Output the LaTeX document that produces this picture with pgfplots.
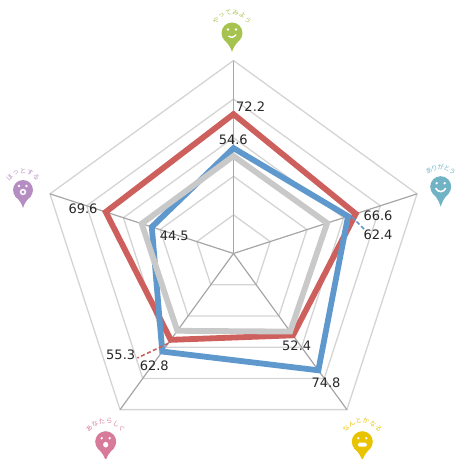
\documentclass[border=0pt]{standalone}
\usepackage{fontspec}
\usepackage{pgfplots}
\pgfplotsset{compat=1.18}
\usepgfplotslibrary{polar}
\setmainfont{DejaVu Sans}
\newfontfamily\jp{Noto Sans CJK JP}
\definecolor{cred}{HTML}{CD5F5C}
\definecolor{cblue}{HTML}{5F98CC}
\definecolor{cgray}{HTML}{C9C9C9}
\definecolor{cgrid}{HTML}{D4D4D4}
\definecolor{cspoke}{HTML}{A6A6A6}
\definecolor{cgreen}{HTML}{A6C24F}
\definecolor{cteal}{HTML}{70B3C4}
\definecolor{cpurple}{HTML}{B58DC2}
\definecolor{cpink}{HTML}{D87A9A}
\definecolor{cyellow}{HTML}{E9C200}
\definecolor{ctext}{HTML}{262626}
\newcommand{\pinhead}[3]{% r, tail, colour
  \fill[#3] (0,0) circle (#1);
  \fill[#3] (-0.8*#1,0.6*#1) .. controls (-0.3*#1,1.05*#1) and (-0.12*#1,#2-4) .. (0,#2)
     .. controls (0.12*#1,#2-4) and (0.3*#1,1.05*#1) .. (0.8*#1,0.6*#1) -- cycle;}
\newcommand{\arctext}[5]{% radius, step, count, colour, chars
  \foreach \c [count=\i] in {#5}{
    \pgfmathsetmacro{\a}{(\i-(#3+1)/2)*#2}
    \node[text=#4,font=\jp\fontsize{6.4}{6.4}\selectfont,inner sep=0pt,rotate=-\a]
      at ({#1*sin(\a)},{-#1*cos(\a)}) {\c};
  }}
\begin{document}
\begin{tikzpicture}
\path[use as bounding box] (0,0) rectangle (455pt,-459pt);
\begin{polaraxis}[
  at={(233.5pt,-253.5pt)}, anchor=center,
  scale only axis, width=386pt, height=386pt,
  xmin=0, xmax=360, ymin=0, ymax=100,
  hide axis, clip=false
]
% rings
\addplot[cgrid,line width=1.3pt,mark=none] coordinates {(90,20)(18,20)(-54,20)(-126,20)(162,20)(90,20)(18,20)};
\addplot[cgrid,line width=1.3pt,mark=none] coordinates {(90,40)(18,40)(-54,40)(-126,40)(162,40)(90,40)(18,40)};
\addplot[cgrid,line width=1.3pt,mark=none] coordinates {(90,60)(18,60)(-54,60)(-126,60)(162,60)(90,60)(18,60)};
\addplot[cgrid,line width=1.3pt,mark=none] coordinates {(90,80)(18,80)(-54,80)(-126,80)(162,80)(90,80)(18,80)};
\addplot[cgrid,line width=1.3pt,mark=none] coordinates {(90,100)(18,100)(-54,100)(-126,100)(162,100)(90,100)(18,100)};
% spokes
\addplot[cspoke,line width=1.2pt,mark=none] coordinates {(90,0)(90,100)};
\addplot[cspoke,line width=1.2pt,mark=none] coordinates {(18,0)(18,100)};
\addplot[cspoke,line width=1.2pt,mark=none] coordinates {(-54,0)(-54,100)};
\addplot[cspoke,line width=1.2pt,mark=none] coordinates {(-126,0)(-126,100)};
\addplot[cspoke,line width=1.2pt,mark=none] coordinates {(162,0)(162,100)};
% series
\addplot[cred,line width=5.8pt,miter limit=10,mark=none] coordinates {(90,72.2)(18,66.6)(-54,52.4)(-126,55.3)(162,69.6)(90,72.2)(18,66.6)};
\addplot[cblue,line width=5.8pt,miter limit=10,mark=none] coordinates {(90,54.6)(18,62.4)(-54,74.8)(-126,62.8)(162,44.5)(90,54.6)(18,62.4)};
\addplot[cgray,line width=5.8pt,miter limit=10,mark=none] coordinates {(90,50.5)(18,51)(-54,50)(-126,49.5)(162,50)(90,50.5)(18,51)};
\end{polaraxis}
\begin{scope}[x=1pt,y=-1pt]
% leader lines
\draw[cred,line width=1.6pt,dash pattern=on 4pt off 2.5pt] (168.3,343.3) -- (137.3,358);
\draw[cblue,line width=1.6pt,dash pattern=on 4pt off 2.5pt] (352,217) -- (365,230);
% labels
\tikzset{lab/.style={text=ctext,font=\fontsize{13}{13}\selectfont,inner sep=0pt}}
\node[lab] at (250.7,106.7) {72.2};
\node[lab] at (233.3,139.3) {54.6};
\node[lab] at (378,216) {66.6};
\node[lab] at (378,235) {62.4};
\node[lab] at (296.7,346) {52.4};
\node[lab] at (326,383) {74.8};
\node[lab] at (120.7,355) {55.3};
\node[lab] at (154.3,365.7) {62.8};
\node[lab] at (174.3,236) {44.5};
\node[lab] at (83,209) {69.6};
% icons
\begin{scope}[shift={(232,33)}]
  \pinhead{10.5}{19}{cgreen}
  \arctext{20.5}{20.5}{6}{cgreen}{や,っ,て,み,よ,う}
  \fill[white] (-4,-3.5) circle (1.3) (4,-3.5) circle (1.3);
  \draw[white,line width=1.4pt] (-3.5,3) .. controls (-1,5) and (2,4.5) .. (4,1.5);
\end{scope}
\begin{scope}[shift={(440.7,186.7)}]
  \pinhead{10.5}{20}{cteal}
  \arctext{19.5}{18.5}{5}{cteal}{あ,り,が,と,う}
  \fill[white] (-4,-3.5) circle (1.3) (4,-3.5) circle (1.3);
  \draw[white,line width=1.6pt] (-5,1.5) .. controls (-3,6) and (3,6) .. (5,1.5);
\end{scope}
\begin{scope}[shift={(23,190)}]
  \pinhead{10}{18}{cpurple}
  \arctext{18.5}{23}{5}{cpurple}{ほ,っ,と,す,る}
  \fill[white] (-4,-4) circle (1.3) (3.5,-4) circle (1.3);
  \draw[white,line width=1.5pt] (0,2) circle (2.4);
\end{scope}
\begin{scope}[shift={(105.7,441.7)}]
  \pinhead{10.5}{19}{cpink}
  \arctext{21}{20.5}{6}{cpink}{あ,な,た,ら,し,く}
  \fill[white] (-4,-3.5) circle (1.3) (4,-3.5) circle (1.3);
  \fill[white] (0,3) ellipse (2.6 and 2.8);
\end{scope}
\begin{scope}[shift={(362.3,441.7)}]
  \pinhead{10.5}{19}{cyellow}
  \arctext{21}{20.5}{6}{cyellow}{な,ん,と,か,な,る}
  \fill[white] (-4,-3.5) circle (1.3) (4,-3.5) circle (1.3);
  \fill[white,rounded corners=1.5pt] (-4.5,1) rectangle (4.5,5);
\end{scope}
\end{scope}
\end{tikzpicture}
\end{document}
